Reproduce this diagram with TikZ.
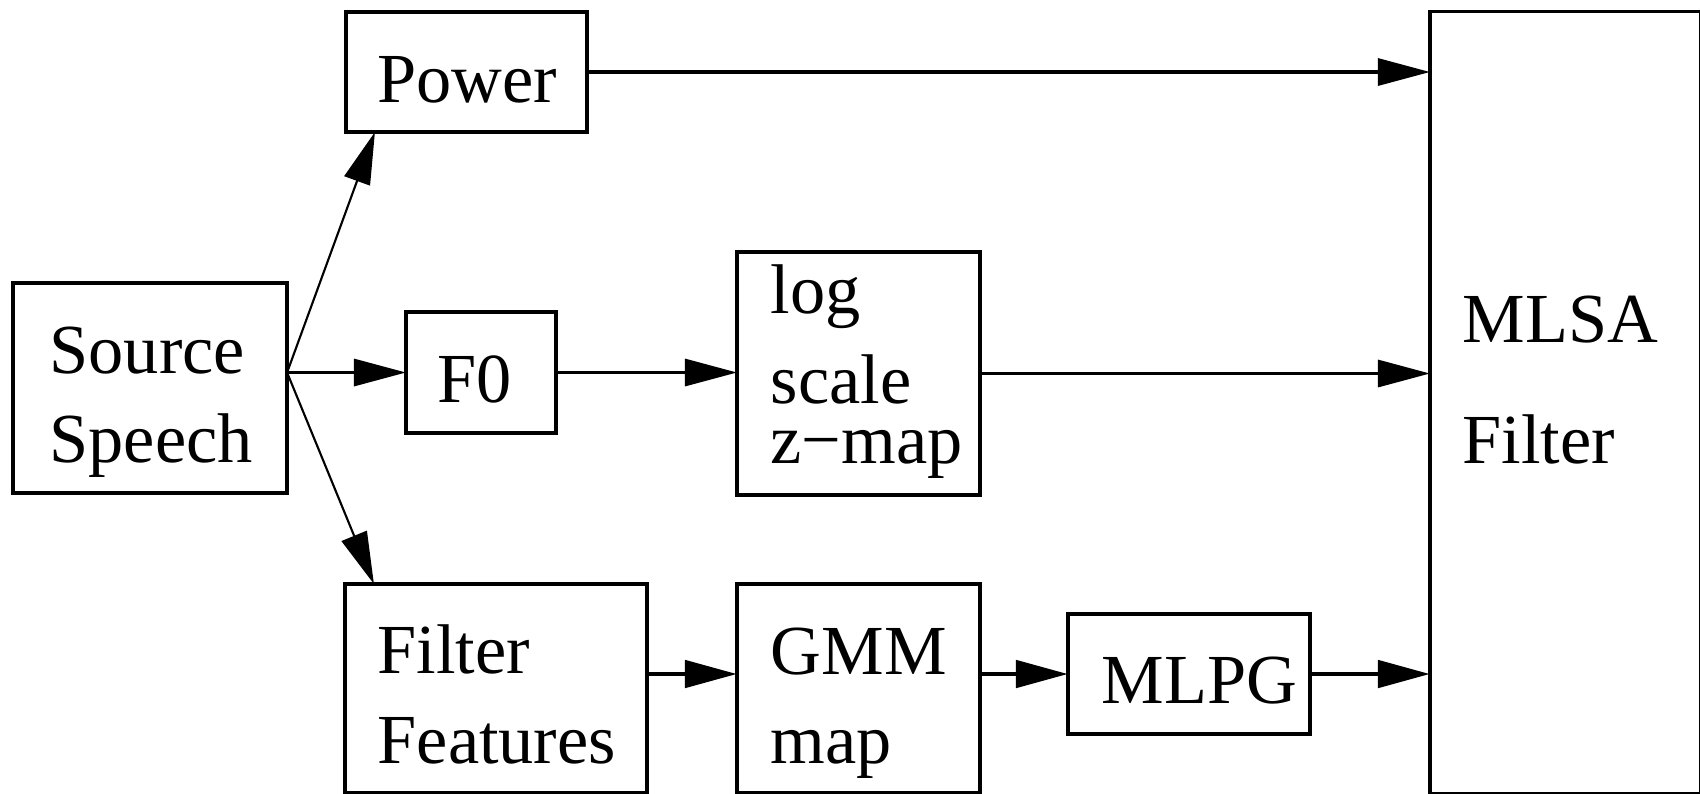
\documentclass[tikz,border=0pt]{standalone}
\usepackage{fontspec}
\setmainfont{Liberation Serif}
\usetikzlibrary{arrows.meta,calc}
\begin{document}
\begin{tikzpicture}[x=0.01cm,y=-0.01cm,
  box/.style={draw,line width=1.1pt,inner sep=0pt,outer sep=0pt},
  lbl/.style={anchor=base west,inner sep=0pt,font=\fontsize{20}{24}\selectfont},
  headtip/.style={-{Triangle[length=5.2mm,width=2.7mm]}},
  fanlink/.style={headtip,line width=0.6pt},
  link/.style={headtip,line width=0.9pt},
  boldlink/.style={headtip,line width=1.4pt}]

% page frame; blocks running off the bottom and right edges are cut here
\clip (0,0) rectangle (1700,793);

% blocks
\node[box,minimum width=2.74cm,minimum height=2.10cm] (src)   at (150,388)    {};
\node[box,minimum width=2.41cm,minimum height=1.20cm] (power) at (466.5,72)   {};
\node[box,minimum width=1.50cm,minimum height=1.21cm] (f0)    at (481,372.5)  {};
\node[box,minimum width=2.43cm,minimum height=2.43cm] (logz)  at (858.5,373.5){};
\node[box,minimum width=3.02cm,minimum height=2.09cm] (ff)    at (496,688.5)  {};
\node[box,minimum width=2.43cm,minimum height=2.09cm] (gmm)   at (858.5,688.5){};
\node[box,minimum width=2.42cm,minimum height=1.20cm] (mlpg)  at (1189,674)   {};
\node[box,line width=0.9pt,minimum width=2.70cm,minimum height=7.81cm] (mlsa) at (1565,402.5) {};

% block texts
\node[lbl] (tsrc1)  at (49,373)   {Source};
\node[lbl] (tsrc2)  at (49,462)   {Speech};
\node[lbl] (tpow)   at (377,102)  {Power};
\node[lbl] (tf0)    at (437,402)  {F0};
\node[lbl] (tlog1)  at (770,313)  {log};
\node[lbl] (tlog2)  at (770,403)  {scale};
\node[lbl] (tlog3)  at (770,463)  {z−map};
\node[lbl] (tff1)   at (377,673)  {Filter};
\node[lbl] (tff2)   at (377,763)  {Features};
\node[lbl] (tgmm1)  at (770,674)  {GMM};
\node[lbl] (tgmm2)  at (770,763)  {map};
\node[lbl] (tmlpg)  at (1101,703) {MLPG};
\node[lbl] (tmlsa1) at (1462,342) {MLSA};
\node[lbl] (tmlsa2) at (1462,463) {Filter};

% branch point and entry points of the slanted arrows
\coordinate (fan)  at (src.east |- f0.center);
\coordinate (pwin) at ($(power.south west)+(29,0)$);
\coordinate (ffin) at ($(ff.north west)+(29,0)$);

% connectors
\draw[fanlink] (fan) -- (pwin);
\draw[link]    (fan) -- (f0.west);
\draw[fanlink] (fan) -- (ffin);
\draw[link] (power.east) -- (power.east -| mlsa.west);
\draw[link] (f0.east) -- (f0.east -| logz.west);
\draw[link] (logz.east) -- (logz.east -| mlsa.west);
\draw[boldlink] (ff.east |- mlpg.center) -- (gmm.west |- mlpg.center);
\draw[boldlink] (gmm.east |- mlpg.center) -- (mlpg.west);
\draw[boldlink] (mlpg.east) -- (mlpg.east -| mlsa.west);
\end{tikzpicture}
\end{document}
